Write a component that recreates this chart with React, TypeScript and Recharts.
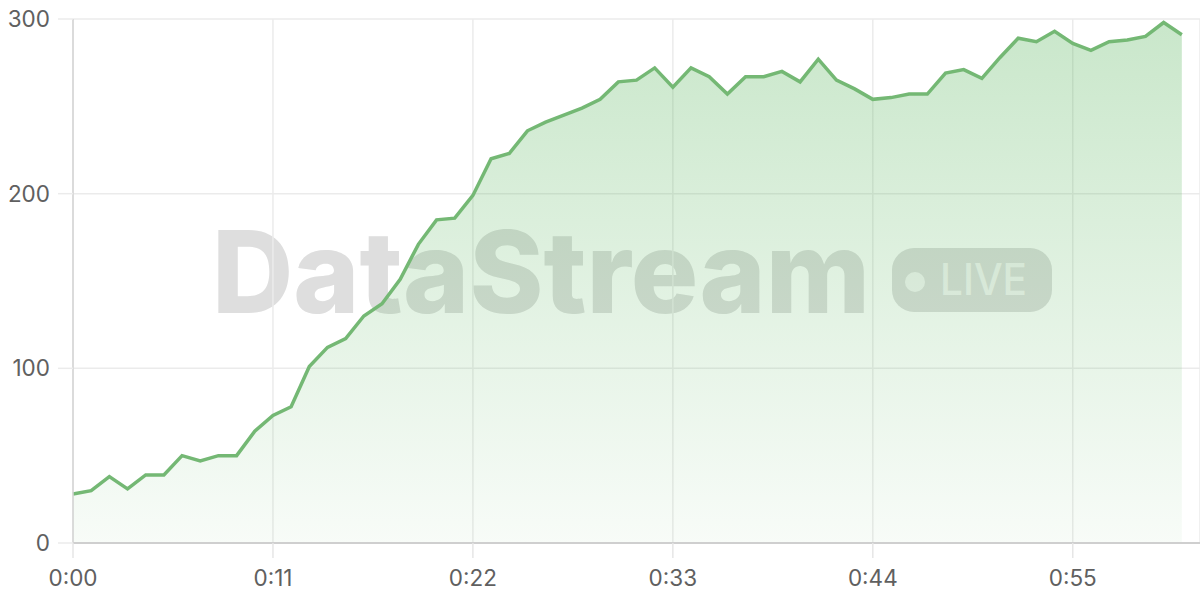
import { AreaChart, Area, XAxis, YAxis, CartesianGrid } from "recharts";

// elapsed seconds and values
const seconds = [
  0, 1, 2, 3, 4, 5, 6, 7, 8, 9, 10, 11, 12, 13, 14, 15, 16, 17, 18, 19, 20,
  21, 22, 23, 24, 25, 26, 27, 28, 29, 30, 31, 32, 33, 34, 35, 36, 37, 38, 39,
  40, 41, 42, 43, 44, 45, 46, 47, 48, 49, 50, 51, 52, 53, 54, 55, 56, 57, 58,
  59, 60, 61,
];
const values = [
  28, 30, 38, 31, 39, 39, 50, 47, 50, 50, 64, 73, 78, 101, 112, 117, 130, 137,
  151, 171, 185, 186, 199, 220, 223, 236, 241, 245, 249, 254, 264, 265, 272,
  261, 272, 267, 257, 267, 267, 270, 264, 277, 265, 260, 254, 255, 257, 257,
  269, 271, 266, 278, 289, 287, 293, 286, 282, 287, 288, 290, 298, 291,
];
const xTicks = [0, 11, 22, 33, 44, 55];
const xTickLabels = ["0:00", "0:11", "0:22", "0:33", "0:44", "0:55"];
const yTicks = [0, 100, 200, 300];

const data = seconds.map((t, i) => ({ t, value: values[i] }));

const tickStyle = { fill: "#606060", fontSize: 22.5, fontFamily: "Inter, sans-serif" };

function Watermark() {
  return (
    <svg
      width={1200}
      height={600}
      style={{ position: "absolute", left: 0, top: 0 }}
    >
      <text
        x={212}
        y={313}
        fontFamily="Inter, sans-serif"
        fontWeight={800}
        fontSize={114}
        fill="#dedede"
        textLength={658}
        lengthAdjust="spacingAndGlyphs"
      >
        DataStream
      </text>
      <rect x={892} y={248} width={160} height={64} rx={22} fill="#dedede" />
      <circle cx={915} cy={282} r={10} fill="rgba(255,255,255,0.7)" />
      <text
        x={940}
        y={295}
        fontFamily="Inter, sans-serif"
        fontWeight={500}
        fontSize={44}
        fill="rgba(255,255,255,0.7)"
        textLength={87}
        lengthAdjust="spacingAndGlyphs"
      >
        LIVE
      </text>
    </svg>
  );
}

export default function App() {
  return (
    <div style={{ position: "absolute", left: 0, top: 0, width: 1200, height: 600, background: "#fff" }}>
      <Watermark />
      <div style={{ position: "absolute", left: 0, top: 0 }}>
        <AreaChart
          width={1200}
          height={600}
          data={data}
          margin={{ top: 19, right: 0, left: 0, bottom: 0 }}
        >
          <defs>
            <linearGradient id="fillGreen" x1="0" y1="0" x2="0" y2="1">
              <stop offset="0%" stopColor="#4caf50" stopOpacity={0.3} />
              <stop offset="100%" stopColor="#4caf50" stopOpacity={0.04} />
            </linearGradient>
          </defs>
          <CartesianGrid stroke="#ebebeb" strokeWidth={1.5} />
          <XAxis
            dataKey="t"
            type="number"
            domain={[0, 62]}
            ticks={xTicks}
            tickFormatter={(v) => xTickLabels[xTicks.indexOf(v)] ?? ""}
            height={57}
            tickSize={15}
            tickMargin={12}
            axisLine={{ stroke: "#cfcfcf", strokeWidth: 2 }}
            tickLine={{ stroke: "#e6e6e6", strokeWidth: 1.5 }}
            tick={tickStyle}
          />
          <YAxis
            domain={[0, 300]}
            ticks={yTicks}
            width={73}
            tickSize={15}
            tickMargin={8}
            axisLine={{ stroke: "#d4d4d4", strokeWidth: 1.5 }}
            tickLine={{ stroke: "#ebebeb", strokeWidth: 1.5 }}
            tick={tickStyle}
          />
          <Area
            type="linear"
            dataKey="value"
            stroke="#74b874"
            strokeWidth={3.5}
            fill="url(#fillGreen)"
            fillOpacity={1}
            dot={false}
            activeDot={false}
            isAnimationActive={false}
          />
        </AreaChart>
      </div>
    </div>
  );
}
